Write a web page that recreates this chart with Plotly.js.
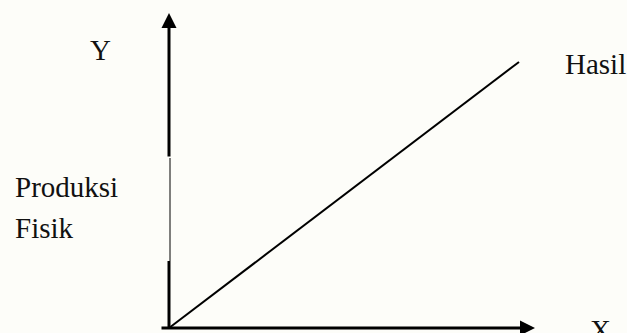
<!DOCTYPE html>
<html>
<head>
<meta charset="utf-8">
<script src="https://cdn.plot.ly/plotly-3.0.1.min.js"></script>
<style>
  html, body { margin: 0; padding: 0; background: #fdfdf9; }
  #chart { width: 627px; height: 333px; }
</style>
</head>
<body>
<div id="chart"></div>
<script>
// Output line (Hasil), from the origin up to the right
var hasilX = [0, 350];
var hasilY = [0, 266];

// Axis extents in the same units
var yAxisTop = 315;
var yThinFrom = 67;
var yThinTo = 170;
var xAxisStart = -9;
var xAxisEnd = 366;

// Labels
var yLabel = 'Y';
var xLabel = 'X';
var lineLabel = 'Hasil';
var yDesc = ['Produksi', 'Fisik'];

var ink = '#000000';
var labelFont = { family: '"Liberation Serif", "Times New Roman", Times, serif', size: 29, color: '#111111' };

var traces = [
    // diagonal line
    {
        x: hasilX,
        y: hasilY,
        mode: 'lines',
        line: { color: ink, width: 2 },
        hoverinfo: 'skip'
    },
    // lower thick piece of the Y axis
    {
        x: [0, 0],
        y: [0, yThinFrom],
        mode: 'lines',
        line: { color: ink, width: 3 },
        hoverinfo: 'skip'
    },
    // thin middle piece of the Y axis
    {
        x: [1, 1],
        y: [yThinFrom, yThinTo],
        mode: 'lines',
        line: { color: ink, width: 1 },
        hoverinfo: 'skip'
    }
];

var annotations = [
    // upper Y axis with arrow head
    {
        x: 0, y: yAxisTop, xref: 'x', yref: 'y',
        ax: 0, ay: yThinTo, axref: 'x', ayref: 'y',
        showarrow: true, arrowhead: 2, arrowsize: 1, arrowwidth: 3,
        arrowcolor: ink, text: ''
    },
    // X axis with arrow head
    {
        x: xAxisEnd, y: 0, xref: 'x', yref: 'y',
        ax: xAxisStart, ay: 0, axref: 'x', ayref: 'y',
        showarrow: true, arrowhead: 2, arrowsize: 1, arrowwidth: 3,
        arrowcolor: ink, text: ''
    },
    { x: -69, y: 278, xref: 'x', yref: 'y', text: yLabel, showarrow: false, font: labelFont },
    { x: 426, y: 264, xref: 'x', yref: 'y', text: lineLabel, showarrow: false, font: labelFont },
    { x: 431, y: -2, xref: 'x', yref: 'y', text: xLabel, showarrow: false, font: labelFont },
    { x: -156, y: 141, xref: 'x', yref: 'y', text: yDesc[0], xanchor: 'left', showarrow: false, font: labelFont },
    { x: -156, y: 100, xref: 'x', yref: 'y', text: yDesc[1], xanchor: 'left', showarrow: false, font: labelFont }
];

var layout = {
    width: 627,
    height: 333,
    margin: { l: 0, r: 0, t: 0, b: 0 },
    paper_bgcolor: '#fdfdf9',
    plot_bgcolor: '#fdfdf9',
    showlegend: false,
    xaxis: { range: [-169, 458], visible: false, fixedrange: true },
    yaxis: { range: [-5, 328], visible: false, fixedrange: true },
    annotations: annotations
};

Plotly.newPlot('chart', traces, layout, { displayModeBar: false, staticPlot: true });
</script>
</body>
</html>
